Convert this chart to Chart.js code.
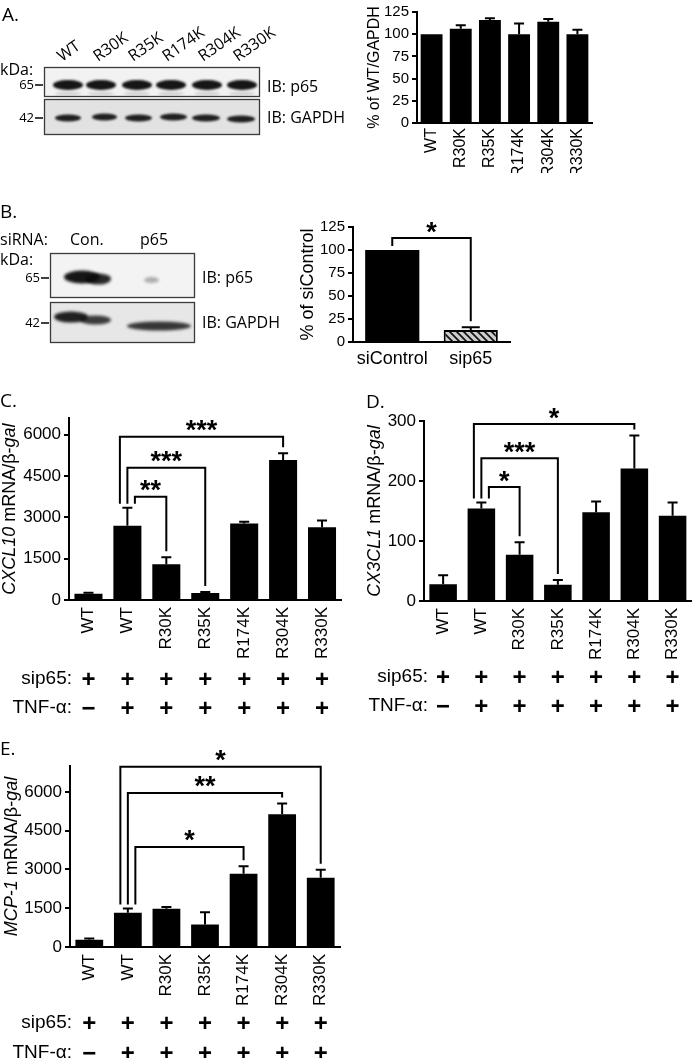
<!DOCTYPE html>
<html><head><meta charset="utf-8">
<script src="https://cdn.jsdelivr.net/npm/chart.js@4.4.1/dist/chart.umd.min.js"></script>
<style>
html,body{margin:0;padding:0;background:#fff;}
#wrap{position:relative;width:700px;height:1058px;overflow:hidden;background:#fff;}
canvas{position:absolute;}
</style></head><body>
<div id="wrap">
<canvas id="bg" width="700" height="1058" style="left:0;top:0"></canvas>
<canvas id="chartA" width="350" height="178" style="left:350px;top:0px"></canvas>
<canvas id="chartB" width="240" height="185" style="left:280px;top:190px"></canvas>
<canvas id="chartC" width="350" height="315" style="left:0px;top:405px"></canvas>
<canvas id="chartD" width="350" height="315" style="left:350px;top:405px"></canvas>
<canvas id="chartE" width="350" height="313" style="left:0px;top:745px"></canvas>
</div>
<script>
// ---------- DATA ----------
const aLabels = ['WT','R30K','R35K','R174K','R304K','R330K'];
const aValues = [100, 106, 116, 100, 114, 100];
const aErrors = [0, 4, 2, 12, 3, 5];
const pctTicks = [0, 25, 50, 75, 100, 125];

const bLabels = ['siControl','sip65'];
const bValues = [100, 13];
const bErrors = [0, 3];

const mutLabels = ['WT','WT','R30K','R35K','R174K','R304K','R330K'];
const sipRow = ['+','+','+','+','+','+','+'];
const tnfRow = ['\u2212','+','+','+','+','+','+'];

const cValues = [230, 2700, 1300, 250, 2780, 5080, 2640];
const cErrors = [30, 650, 250, 40, 60, 250, 250];
const dValues = [28, 154, 77, 27, 148, 221, 142];
const dErrors = [15, 10, 21, 8, 18, 55, 22];
const eValues = [280, 1320, 1480, 870, 2830, 5130, 2680];
const eErrors = [50, 170, 70, 470, 290, 420, 310];
const mrnaTicks = [0, 1500, 3000, 4500, 6000];
const dTicks = [0, 100, 200, 300];

const bBrackets = [{from:0, to:1, y:113, label:'*'}];
const cBrackets = [{from:1, to:5, y:5930, label:'***'},{from:1, to:3, y:4800, label:'***'},{from:1, to:2, y:3745, label:'**'}];
const dBrackets = [{from:1, to:5, y:295, label:'*'},{from:1, to:3, y:238, label:'***'},{from:1, to:2, y:190, label:'*'}];
const eBrackets = [{from:1, to:6, y:6970, label:'*'},{from:1, to:5, y:5960, label:'**'},{from:1, to:4, y:3870, label:'*'}];

const aBlotLanes = ['WT','R30K','R35K','R174K','R304K','R330K'];

// ---------- DRAWING HELPERS ----------
const FIG = "'Liberation Sans', Arial, Helvetica, sans-serif";
const LAB = "'Open Sans', 'Noto Sans', sans-serif";

function txt(ctx, s, x, y, font, align, base){
  ctx.save(); ctx.font = font; ctx.fillStyle = '#000';
  ctx.textAlign = align || 'left'; ctx.textBaseline = base || 'middle';
  ctx.fillText(s, x, y); ctx.restore();
}
function richTitle(ctx, cx, cy, segs, size){
  ctx.save(); ctx.translate(cx, cy); ctx.rotate(-Math.PI/2);
  let total = 0;
  segs.forEach(s => { ctx.font = (s.it ? 'italic ' : '') + size + 'px ' + FIG; s.w = ctx.measureText(s.t).width; total += s.w; });
  let x = -total/2; ctx.fillStyle = '#000'; ctx.textBaseline = 'middle'; ctx.textAlign = 'left';
  segs.forEach(s => { ctx.font = (s.it ? 'italic ' : '') + size + 'px ' + FIG; ctx.fillText(s.t, x, 0); x += s.w; });
  ctx.restore();
}
function band(ctx, x1, x2, yc, h, alpha, blur){
  ctx.save(); ctx.filter = 'blur(' + (blur||1.4) + 'px)';
  ctx.fillStyle = 'rgba(10,10,10,' + alpha + ')';
  ctx.beginPath(); ctx.ellipse((x1+x2)/2, yc, (x2-x1)/2, h/2, 0, 0, Math.PI*2); ctx.fill();
  ctx.restore();
}
function box(ctx, x1, y1, x2, y2, fill){
  ctx.save(); ctx.fillStyle = fill; ctx.fillRect(x1, y1, x2-x1, y2-y1);
  ctx.strokeStyle = '#3a3a3a'; ctx.lineWidth = 1.3; ctx.strokeRect(x1+0.5, y1+0.5, x2-x1-1, y2-y1-1); ctx.restore();
}
function marker(ctx, s, x, y){
  txt(ctx, s, x - 10, y, '13px ' + LAB, 'right', 'middle');
  ctx.save(); ctx.strokeStyle = '#000'; ctx.lineWidth = 1.5; ctx.beginPath(); ctx.moveTo(x-9, y); ctx.lineTo(x-1, y); ctx.stroke(); ctx.restore();
}

// ---------- BACKGROUND: blots + panel letters ----------
(function(){
  const ctx = document.getElementById('bg').getContext('2d');
  ctx.fillStyle = '#fff'; ctx.fillRect(0,0,700,1058);
  const L = '19px ' + LAB;
  txt(ctx, 'A.', 2, 16, L); txt(ctx, 'B.', 0, 213, L); txt(ctx, 'C.', 0, 402, L);
  txt(ctx, 'D.', 366, 403, L); txt(ctx, 'E.', 0, 750, L);

  // Panel A blot
  const starts = [62, 98, 133, 167, 203, 238];
  aBlotLanes.forEach((s, i) => {
    ctx.save(); ctx.translate(starts[i], 62); ctx.rotate(-35*Math.PI/180);
    ctx.font = '16px ' + LAB; ctx.fillStyle = '#000'; ctx.textBaseline = 'alphabetic'; ctx.fillText(s, 0, 0); ctx.restore();
  });
  txt(ctx, 'kDa:', 0, 70, '16px ' + LAB);
  box(ctx, 44, 67, 260, 97, '#f2f2f2');
  box(ctx, 44, 99, 260, 135, '#e2e2e2');
  const topC = [68, 101, 137, 171, 207, 242];
  topC.forEach(c => { band(ctx, c-15, c+15, 85, 10, 0.95, 1.3); band(ctx, c-13, c+13, 93.5, 2.5, 0.18, 1); });
  const botB = [[55,81,118],[92,117,117],[125,152,118],[160,187,117],[192,220,118],[227,255,119]];
  botB.forEach(b => band(ctx, b[0], b[1], b[2], 7, 0.9, 1.2));
  marker(ctx, '65', 44, 85); marker(ctx, '42', 44, 118);
  txt(ctx, 'IB: p65', 267, 87, '16px ' + LAB); txt(ctx, 'IB: GAPDH', 267, 118, '16px ' + LAB);

  // Panel B blot
  txt(ctx, 'siRNA:', 0, 240, '16px ' + LAB); txt(ctx, 'Con.', 70, 240, '16px ' + LAB); txt(ctx, 'p65', 140, 240, '16px ' + LAB);
  txt(ctx, 'kDa:', 0, 260, '16px ' + LAB);
  box(ctx, 50, 253, 195, 298, '#f3f3f3');
  box(ctx, 50, 302, 195, 343, '#e7e7e7');
  band(ctx, 64, 100, 277, 13, 0.95, 1.8); band(ctx, 86, 111, 279, 11, 0.88, 1.8);
  band(ctx, 144, 159, 280, 6, 0.3, 1.5);
  band(ctx, 54, 88, 317, 11, 0.9, 1.8); band(ctx, 80, 111, 320, 9, 0.78, 1.8);
  band(ctx, 127, 191, 326, 9, 0.8, 1.8);
  marker(ctx, '65', 50, 278); marker(ctx, '42', 50, 323);
  txt(ctx, 'IB: p65', 202, 278, '16px ' + LAB); txt(ctx, 'IB: GAPDH', 202, 323, '16px ' + LAB);
})();

// ---------- CHART PLUGIN ----------
const figPlugin = {
  id: 'fig',
  afterDatasetsDraw(chart, args, o){
    const ctx = chart.ctx, ys = chart.scales.y, meta = chart.getDatasetMeta(0);
    const vals = chart.data.datasets[0].data;
    ctx.save(); ctx.strokeStyle = '#000'; ctx.lineWidth = 2; ctx.lineCap = 'butt';
    (o.err || []).forEach((e, i) => {
      if (!e) return;
      const bx = meta.data[i].x, y0 = ys.getPixelForValue(vals[i]), y1 = ys.getPixelForValue(vals[i] + e);
      ctx.beginPath(); ctx.moveTo(bx, y0); ctx.lineTo(bx, y1);
      ctx.moveTo(bx - o.cap, y1); ctx.lineTo(bx + o.cap, y1); ctx.stroke();
    });
    const br = o.brackets || [];
    const n = br.length;
    br.forEach((b, k) => {
      const off = (k - (n-1)/2) * 7.5;
      const lx = meta.data[b.from].x + off, rx = meta.data[b.to].x;
      const yb = ys.getPixelForValue(b.y);
      const le = ys.getPixelForValue(vals[b.from] + (o.err[b.from]||0)) - 4;
      const re = ys.getPixelForValue(vals[b.to] + (o.err[b.to]||0)) - 6;
      ctx.beginPath(); ctx.moveTo(lx, le); ctx.lineTo(lx, yb); ctx.lineTo(rx, yb); ctx.lineTo(rx, re); ctx.stroke();
      ctx.font = 'bold 27px ' + FIG; ctx.fillStyle = '#000'; ctx.textAlign = 'center'; ctx.textBaseline = 'alphabetic';
      const m = ctx.measureText(b.label);
      const base = yb - 11 - (m.actualBoundingBoxDescent - m.actualBoundingBoxAscent)/2;
      ctx.fillText(b.label, (lx + rx)/2, base);
    });
    ctx.restore();
  },
  afterDraw(chart, args, o){
    const ctx = chart.ctx, ca = chart.chartArea, meta = chart.getDatasetMeta(0);
    if (o.title) richTitle(ctx, o.title.x, (ca.top + ca.bottom)/2, o.title.segs, o.title.size);
    (o.rows || []).forEach(r => {
      txt(ctx, r.label, o.rowLabelX, r.y, '19px ' + FIG, 'right', 'middle');
      r.marks.forEach((m, i) => txt(ctx, m, meta.data[i].x, r.y + 1, 'bold 24px ' + FIG, 'center', 'middle'));
    });
  }
};
Chart.register(figPlugin);

function hatch(){
  const c = document.createElement('canvas'); c.width = 7; c.height = 7;
  const g = c.getContext('2d'); g.fillStyle = '#cdcdcd'; g.fillRect(0,0,7,7);
  g.strokeStyle = '#111'; g.lineWidth = 1.7; g.beginPath();
  g.moveTo(-2,-2); g.lineTo(9,9); g.moveTo(-2,5); g.lineTo(2,9); g.moveTo(5,-2); g.lineTo(9,2); g.stroke();
  return g.createPattern(c, 'repeat');
}

function makeChart(id, labels, values, errors, c){
  return new Chart(document.getElementById(id), {
    type: 'bar',
    data: { labels: labels, datasets: [{ data: values, backgroundColor: c.bg || '#000', borderColor: '#000', borderWidth: c.bw || 0,
      barPercentage: c.barPct, categoryPercentage: 1 }] },
    options: {
      responsive: false, animation: false, events: [],
      layout: { padding: { left: 0, top: c.pad[0], right: c.pad[1], bottom: c.pad[2] } },
      plugins: { legend: { display: false }, tooltip: { enabled: false },
        fig: { err: errors, cap: c.cap, brackets: c.brackets, title: c.title, rows: c.rows, rowLabelX: c.rowLabelX } },
      scales: {
        x: { type: 'category', offset: true,
          grid: { display: false, drawTicks: false },
          border: { display: true, color: '#000', width: 2 },
          ticks: { autoSkip: false, maxRotation: c.rot, minRotation: c.rot, padding: c.xPad, color: '#000', font: { size: c.xFont, family: FIG } },
          afterFit(s){ s.height = c.xH; } },
        y: { min: 0, max: c.max,
          grid: { display: true, drawOnChartArea: false, drawTicks: true, tickLength: 5, color: '#000', lineWidth: 2 },
          border: { display: true, color: '#000', width: 2 },
          ticks: { autoSkip: false, padding: 3, color: '#000', font: { size: c.tickFont, family: FIG }, callback: v => String(v) },
          afterBuildTicks(s){ s.ticks = c.ticks.map(v => ({ value: v })); },
          afterFit(s){ s.width = c.yW; } }
      }
    }
  });
}

makeChart('chartA', aLabels, aValues, aErrors, {
  ticks: pctTicks, max: 125, yW: 67, xH: 50, pad: [10, 108, 5], tickFont: 15, xFont: 16, rot: 90, xPad: 5,
  barPct: 0.75, cap: 5, title: { x: 25, size: 16, segs: [{ t: '% of WT/GAPDH' }] }
});
makeChart('chartB', bLabels, bValues, bErrors, {
  ticks: pctTicks, max: 125, yW: 73, xH: 30, pad: [37, 10, 3], tickFont: 15, xFont: 18, rot: 0, xPad: 6,
  barPct: 0.69, cap: 9, bg: ['#000', hatch()], bw: [0, 2], brackets: bBrackets,
  title: { x: 28, size: 18, segs: [{ t: '% of siControl' }] }
});
const rowsFor = (y1, y2) => [{ label: 'sip65:', marks: sipRow, y: y1 }, { label: 'TNF-\u03b1:', marks: tnfRow, y: y2 }];
makeChart('chartC', mutLabels, cValues, cErrors, {
  ticks: mrnaTicks, max: 6600, yW: 69, xH: 60, pad: [13, 8, 60], tickFont: 17, xFont: 17, rot: 90, xPad: 7,
  barPct: 0.72, cap: 5, brackets: cBrackets, rows: rowsFor(274, 303), rowLabelX: 72,
  title: { x: 10, size: 18, segs: [{ t: 'CXCL10', it: true }, { t: ' mRNA/\u03b2-' }, { t: 'gal', it: true }] }
});
makeChart('chartD', mutLabels, dValues, dErrors, {
  ticks: dTicks, max: 300, yW: 74, xH: 60, pad: [16, 0, 59], tickFont: 17, xFont: 17, rot: 90, xPad: 7,
  barPct: 0.72, cap: 5, brackets: dBrackets, rows: rowsFor(272, 301), rowLabelX: 78,
  title: { x: 25, size: 18, segs: [{ t: 'CX3CL1', it: true }, { t: ' mRNA/\u03b2-' }, { t: 'gal', it: true }] }
});
makeChart('chartE', mutLabels, eValues, eErrors, {
  ticks: mrnaTicks, max: 7000, yW: 70, xH: 60, pad: [21, 10, 51], tickFont: 17, xFont: 17, rot: 90, xPad: 7,
  barPct: 0.72, cap: 5, brackets: eBrackets, rows: rowsFor(278, 308), rowLabelX: 72,
  title: { x: 12, size: 18, segs: [{ t: 'MCP-1', it: true }, { t: ' mRNA/\u03b2-' }, { t: 'gal', it: true }] }
});
</script>
</body></html>
